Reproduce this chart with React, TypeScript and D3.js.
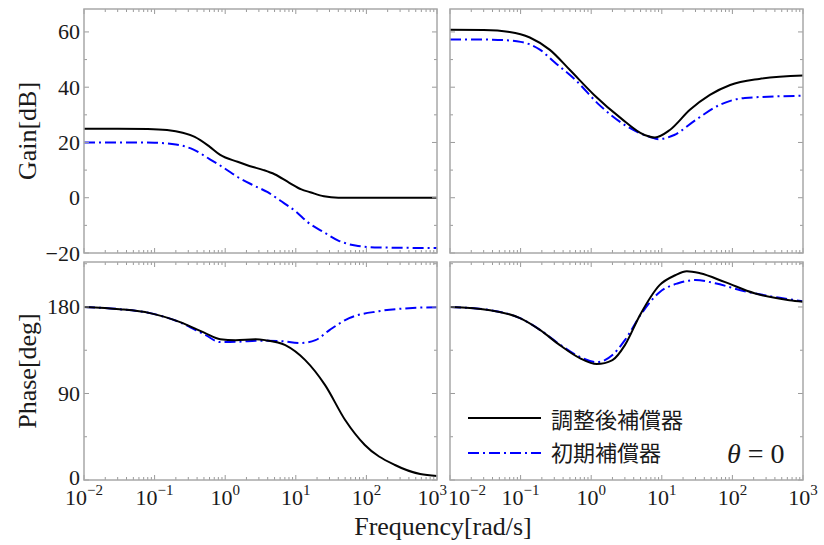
import React from 'react';
import * as d3 from 'd3';

// ---------- data ----------
const gainTLFreqAdj = [0.01, 0.03, 0.08, 0.15, 0.25, 0.37, 0.6, 0.85, 1.5, 2.2, 3.5, 5, 8, 12, 16, 25, 40, 100, 1000];
const gainTLAdj = [25, 25, 24.9, 24.5, 23.5, 22, 18.5, 15.5, 13, 11.5, 10, 8.5, 5.5, 3, 2, 0.5, 0, 0, 0];
const gainTLFreqInit = [0.01, 0.05, 0.1, 0.2, 0.35, 0.6, 1, 1.5, 2.5, 4, 6, 10, 15, 25, 40, 70, 150, 1000];
const gainTLInit = [20, 20, 19.9, 19.3, 17.5, 14, 10.5, 7.5, 4.5, 2, -1, -5, -9, -12.5, -15.5, -17.3, -18, -18.2];

const gainTRFreqAdj = [0.01, 0.03, 0.07, 0.135, 0.26, 0.5, 1.1, 2.6, 5.7, 8, 13, 25, 48, 93, 240, 1000];
const gainTRAdj = [60.8, 60.7, 60, 58, 53.5, 46.2, 37.2, 28.9, 22.7, 21.8, 24.5, 31.8, 37.2, 40.8, 43, 44.2];
const gainTRFreqInit = [0.01, 0.04, 0.1, 0.19, 0.3, 0.6, 1.3, 3, 6.8, 9, 15, 30, 66, 150, 1000];
const gainTRInit = [57.3, 57.2, 56.4, 53.5, 49.1, 42.6, 33.6, 26.3, 22, 21.2, 22.7, 28.1, 33.6, 36.1, 36.9];

const phaseBLFreqAdj = [0.01, 0.032, 0.086, 0.23, 0.52, 0.85, 1.4, 2.7, 3.7, 7.1, 13.6, 26, 50, 95, 254, 578, 1000];
const phaseBLAdj = [180, 177.7, 173.6, 164.2, 152.8, 146.5, 145.5, 146.5, 145.5, 140.3, 124.7, 98.7, 62.4, 36.4, 15.6, 6.2, 4.2];
const phaseBLFreqInit = [0.01, 0.032, 0.086, 0.23, 0.52, 0.85, 1.7, 2.7, 6, 11.5, 19, 30, 57, 150, 400, 1000];
const phaseBLInit = [180, 177.7, 173.6, 164, 151, 143.5, 144, 145, 144.5, 142.5, 145.5, 156, 168.4, 175.6, 178.8, 179.8];

const phaseBRFreqAdj = [0.01, 0.037, 0.098, 0.19, 0.36, 0.69, 1.2, 2.0, 3.0, 4.9, 9.3, 15.5, 22.6, 34.8, 79, 205, 640, 1000];
const phaseBRAdj = [180, 176.7, 168.4, 155.9, 140.3, 126.8, 120.6, 124.7, 140.3, 171.5, 202.7, 213, 217.2, 215.1, 205.8, 194.3, 187.1, 185.5];
const phaseBRFreqInit = [0.01, 0.037, 0.098, 0.19, 0.36, 0.69, 1.2, 2.0, 3.0, 5.2, 9.3, 17, 30, 57, 130, 340, 1000];
const phaseBRInit = [180, 176.7, 168.4, 156, 141, 128, 122.6, 130, 145.5, 173.6, 195.4, 204.7, 208, 204.7, 197.5, 191.2, 186];

const xMajorTicks = [0.01, 0.1, 1, 10, 100, 1000];
const xTickExps = ['−2', '−1', '0', '1', '2', '3'];
const gainTicks = [60, 40, 20, 0, -20];
const gainTickLabels = ['60', '40', '20', '0', '−20'];
const phaseTicks = [180, 90, 0];
const phaseTickLabels = ['180', '90', '0'];

const legendLabels = ['調整後補償器', '初期補償器'];

// ---------- layout ----------
const W = 824, H = 545;
const colL = [84, 437];
const colR = [450, 803];
const rowTop = [9, 253];
const rowBot = [262, 480];
const gainDomain = [-20, 68.3];
const phaseDomain = [0, 226.8];

const SERIF = '"Liberation Serif", "DejaVu Serif", serif';
const CJK = '"Noto Sans CJK JP", "Noto Sans CJK SC", sans-serif';
const FRAME = '#a8a8a8';
const TICK = '#9a9a9a';
const TEXT = '#1a1a1a';

function minorLogTicks(): number[] {
  const out: number[] = [];
  for (let e = -2; e < 3; e++) {
    for (let m = 2; m <= 9; m++) out.push(m * Math.pow(10, e));
  }
  return out;
}

type PanelProps = {
  xr: number[];
  yr: number[];
  yDomain: number[];
  yMajor: number[];
  yMinorStep: number;
  yLabels?: string[];
  xLabels: 'left' | 'right' | null;
  series: { f: number[]; v: number[]; color: string; dash?: string }[];
};

function Panel({ xr, yr, yDomain, yMajor, yMinorStep, yLabels, xLabels, series }: PanelProps) {
  const x = d3.scaleLog().domain([0.01, 1000]).range(xr);
  const y = d3.scaleLinear().domain(yDomain).range([yr[1], yr[0]]);
  const line = d3.line<[number, number]>()
    .x(d => x(d[0]))
    .y(d => y(d[1]))
    .curve(d3.curveMonotoneX);
  const minors = minorLogTicks();
  const yMinor: number[] = [];
  for (let v = Math.ceil(yDomain[0] / yMinorStep) * yMinorStep; v <= yDomain[1]; v += yMinorStep) {
    if (!yMajor.includes(v)) yMinor.push(v);
  }
  const clipId = `clip-${xr[0]}-${yr[0]}`;
  const majLen = 5, minLen = 3;
  return (
    <g>
      <defs>
        <clipPath id={clipId}>
          <rect x={xr[0]} y={yr[0]} width={xr[1] - xr[0]} height={yr[1] - yr[0]} />
        </clipPath>
      </defs>
      <g clipPath={`url(#${clipId})`}>
        {series.map((s, i) => (
          <path key={i}
            d={line(s.f.map((f, j) => [f, s.v[j]] as [number, number])) || ''}
            fill="none" stroke={s.color} strokeWidth={2}
            strokeDasharray={s.dash} />
        ))}
      </g>
      <g stroke={TICK} strokeWidth={1}>
        {xMajorTicks.map((t, i) => (
          <g key={'xm' + i}>
            <line x1={x(t)} x2={x(t)} y1={yr[1]} y2={yr[1] - majLen} />
            <line x1={x(t)} x2={x(t)} y1={yr[0]} y2={yr[0] + majLen} />
          </g>
        ))}
        {minors.map((t, i) => (
          <g key={'xn' + i}>
            <line x1={x(t)} x2={x(t)} y1={yr[1]} y2={yr[1] - minLen} />
            <line x1={x(t)} x2={x(t)} y1={yr[0]} y2={yr[0] + minLen} />
          </g>
        ))}
        {yMajor.map((t, i) => (
          <g key={'ym' + i}>
            <line x1={xr[0]} x2={xr[0] + majLen} y1={y(t)} y2={y(t)} />
            <line x1={xr[1]} x2={xr[1] - majLen} y1={y(t)} y2={y(t)} />
          </g>
        ))}
        {yMinor.map((t, i) => (
          <g key={'yn' + i}>
            <line x1={xr[0]} x2={xr[0] + minLen} y1={y(t)} y2={y(t)} />
            <line x1={xr[1]} x2={xr[1] - minLen} y1={y(t)} y2={y(t)} />
          </g>
        ))}
      </g>
      <rect x={xr[0]} y={yr[0]} width={xr[1] - xr[0]} height={yr[1] - yr[0]}
        fill="none" stroke={FRAME} strokeWidth={1.5} />
      {yLabels && yMajor.map((t, i) => (
        <text key={'yl' + i} x={xr[0] - 4} y={y(t) - (i === yMajor.length - 1 && yr[0] > 200 ? 3 : 0)}
          textAnchor="end" dominantBaseline="central"
          fontFamily={SERIF} fontSize={22} fill={TEXT}>{yLabels[i]}</text>
      ))}
      {xLabels && xMajorTicks.map((t, i) => {
        let anchor: 'middle' | 'end' | 'start' = 'middle';
        let px = x(t);
        if (xLabels === 'left' && i === xMajorTicks.length - 1) { anchor = 'end'; px = x(t) + 10; }
        if (xLabels === 'right' && i === 0) { anchor = 'start'; px = x(t) - 2; }
        return (
          <text key={'xl' + i} x={px} y={505} textAnchor={anchor} fontFamily={SERIF} fontSize={22} fill={TEXT}>
            10<tspan dy={-10} fontSize={15}>{xTickExps[i]}</tspan>
          </text>
        );
      })}
    </g>
  );
}

export default function App() {
  const blueDash = '11,4,2,4';
  return (
    <svg width={W} height={H} style={{ position: 'absolute', left: 0, top: 0, background: '#fff' }}>
      <rect x={0} y={0} width={W} height={H} fill="#fff" />
      <Panel xr={colL} yr={rowTop} yDomain={gainDomain} yMajor={gainTicks} yMinorStep={10}
        yLabels={gainTickLabels} xLabels={null}
        series={[
          { f: gainTLFreqInit, v: gainTLInit, color: '#0000ff', dash: blueDash },
          { f: gainTLFreqAdj, v: gainTLAdj, color: '#000' },
        ]} />
      <Panel xr={colR} yr={rowTop} yDomain={gainDomain} yMajor={gainTicks} yMinorStep={10}
        xLabels={null}
        series={[
          { f: gainTRFreqInit, v: gainTRInit, color: '#0000ff', dash: blueDash },
          { f: gainTRFreqAdj, v: gainTRAdj, color: '#000' },
        ]} />
      <Panel xr={colL} yr={rowBot} yDomain={phaseDomain} yMajor={phaseTicks} yMinorStep={45}
        yLabels={phaseTickLabels} xLabels="left"
        series={[
          { f: phaseBLFreqInit, v: phaseBLInit, color: '#0000ff', dash: blueDash },
          { f: phaseBLFreqAdj, v: phaseBLAdj, color: '#000' },
        ]} />
      <Panel xr={colR} yr={rowBot} yDomain={phaseDomain} yMajor={phaseTicks} yMinorStep={45}
        xLabels="right"
        series={[
          { f: phaseBRFreqInit, v: phaseBRInit, color: '#0000ff', dash: blueDash },
          { f: phaseBRFreqAdj, v: phaseBRAdj, color: '#000' },
        ]} />

      <text transform="translate(36,131) rotate(-90)" textAnchor="middle" fontFamily={SERIF} fontSize={26} fill={TEXT}>Gain[dB]</text>
      <text transform="translate(36,371) rotate(-90)" textAnchor="middle" fontFamily={SERIF} fontSize={26} fill={TEXT}>Phase[deg]</text>
      <text x={443} y={535} textAnchor="middle" fontFamily={SERIF} fontSize={26} fill={TEXT}>Frequency[rad/s]</text>

      <line x1={468} x2={541} y1={418} y2={418} stroke="#000" strokeWidth={2} />
      <text x={551} y={422} dominantBaseline="middle" fontFamily={CJK} fontSize={22} fill={TEXT}>{legendLabels[0]}</text>
      <line x1={468} x2={541} y1={453} y2={453} stroke="#0000ff" strokeWidth={2} strokeDasharray={blueDash} />
      <text x={551} y={455} dominantBaseline="middle" fontFamily={CJK} fontSize={22} fill={TEXT}>{legendLabels[1]}</text>

      <text x={727} y={463} fontFamily={SERIF} fontSize={28} fill={TEXT}>
        <tspan fontStyle="italic">θ</tspan> = 0
      </text>
    </svg>
  );
}
